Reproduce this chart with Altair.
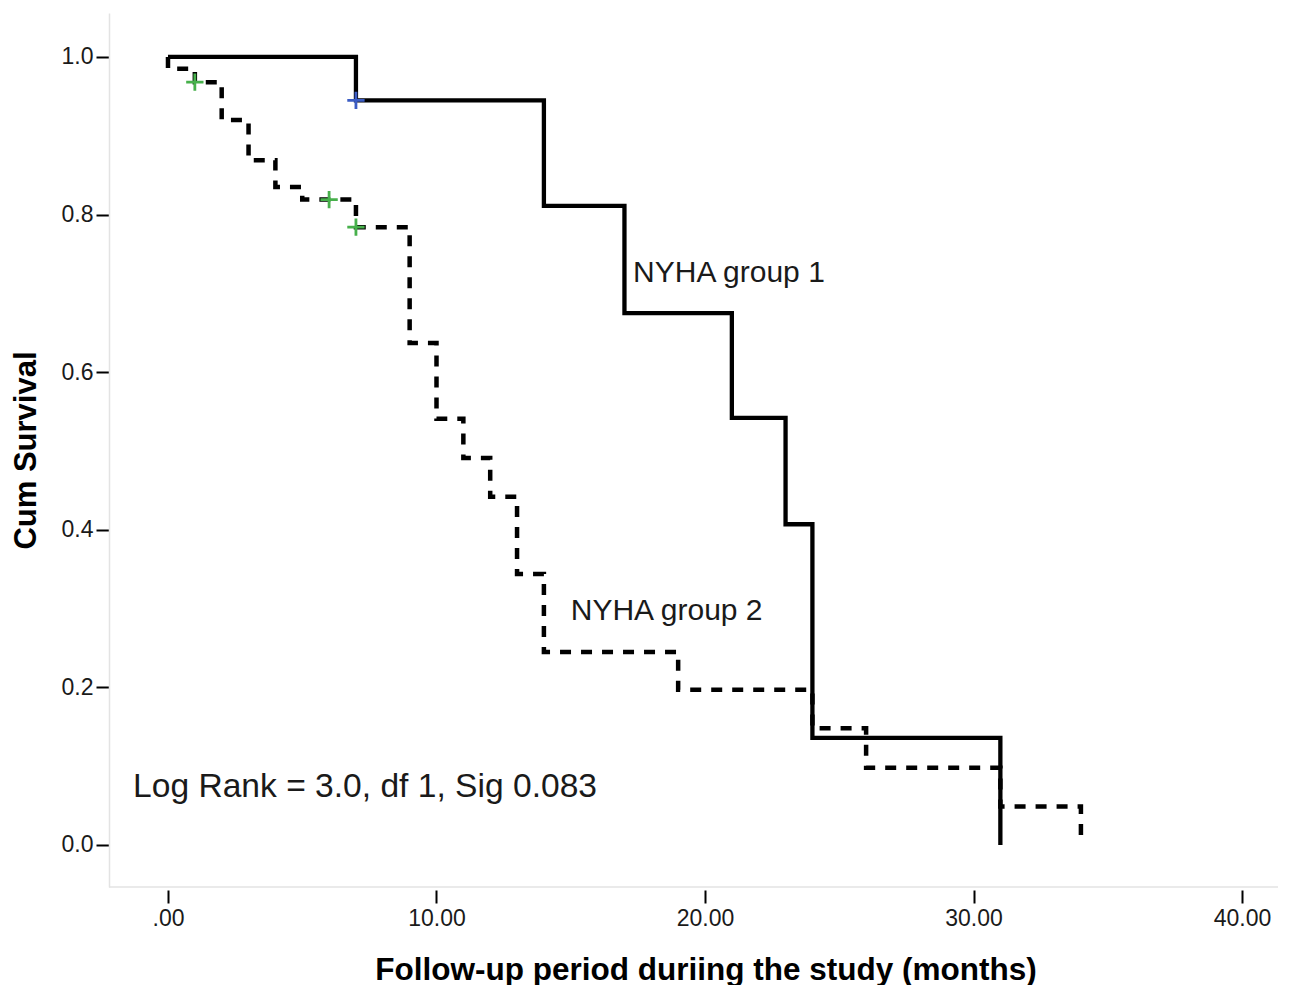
import altair as alt
import pandas as pd

# ---- data ----
group_names = ["NYHA group 1", "NYHA group 2"]

g1_time = [0, 7, 14, 17, 21, 23, 24, 31]
g1_surv = [1.0, 0.945, 0.811, 0.675, 0.542, 0.407, 0.136, 0.0]

g2_time = [0, 0, 1, 2, 3, 4, 5, 7, 9, 10, 11, 12, 13, 14, 19, 24, 26, 31, 34]
g2_surv = [1.0, 0.985, 0.968, 0.920, 0.869, 0.835, 0.819, 0.784, 0.637, 0.541,
           0.491, 0.442, 0.344, 0.245, 0.197, 0.148, 0.098, 0.049, 0.0]

g1_cens_time = [7]
g1_cens_surv = [0.945]
g2_cens_time = [1, 6, 7]
g2_cens_surv = [0.968, 0.819, 0.784]

x_ticks = [0, 10, 20, 30, 40]
y_ticks = [0.0, 0.2, 0.4, 0.6, 0.8, 1.0]

x_title = "Follow-up period duriing the study (months)"
y_title = "Cum Survival"
stat_text = "Log Rank = 3.0, df 1, Sig 0.083"

# ---- tables ----
g1 = pd.DataFrame({"t": g1_time, "s": g1_surv, "group": group_names[0],
                   "idx": range(len(g1_time))})
g2 = pd.DataFrame({"t": g2_time, "s": g2_surv, "group": group_names[1],
                   "idx": range(len(g2_time))})
cens = pd.concat([
    pd.DataFrame({"t": g1_cens_time, "s": g1_cens_surv, "group": group_names[0]}),
    pd.DataFrame({"t": g2_cens_time, "s": g2_cens_surv, "group": group_names[1]}),
])

FONT = "Liberation Sans"
W, H = 1169, 874
xs = alt.Scale(domain=[-2.197, 41.34], nice=False, zero=False)
ys = alt.Scale(domain=[-0.0533, 1.0558], nice=False, zero=False)

x_axis = alt.Axis(values=x_ticks, grid=False, domain=False, offset=3,
                  tickSize=13, tickWidth=2, tickColor="#000",
                  labelFont=FONT, labelFontSize=23, labelColor="#1a1a1a", labelPadding=4,
                  labelExpr="datum.value == 0 ? '.00' : format(datum.value, '.2f')",
                  title=x_title, titleFont=FONT, titleFontSize=31.5, titleFontWeight="bold",
                  titleColor="#000", titleX=596.5, titleY=89, titleBaseline="alphabetic")
y_axis = alt.Axis(values=y_ticks, grid=False, format=".1f",
                  domain=True, domainColor="#e3e3e3", domainWidth=1.5,
                  tickSize=13, tickWidth=2, tickColor="#000",
                  labelFont=FONT, labelFontSize=23, labelColor="#1a1a1a", labelPadding=3,
                  title=y_title, titleFont=FONT, titleFontSize=31, titleFontWeight="bold",
                  titleColor="#000", titleX=-74, titleBaseline="alphabetic")

line1 = alt.Chart(g1).mark_line(interpolate="step-after", strokeWidth=4.3, color="#000").encode(
    x=alt.X("t:Q", scale=xs, axis=x_axis),
    y=alt.Y("s:Q", scale=ys, axis=y_axis),
    order="idx:Q",
)
line2 = alt.Chart(g2).mark_line(interpolate="step-after", strokeWidth=4.5, color="#000",
                                strokeDash=[11, 10]).encode(
    x=alt.X("t:Q", scale=xs),
    y=alt.Y("s:Q", scale=ys),
    order="idx:Q",
)
marks = alt.Chart(cens).mark_point(shape="M-1,0H1M0,-1V1", filled=False, size=300,
                                   strokeWidth=2.8, opacity=1).encode(
    x=alt.X("t:Q", scale=xs),
    y=alt.Y("s:Q", scale=ys),
    color=alt.Color("group:N", scale=alt.Scale(domain=group_names,
                                               range=["#3b5cc4", "#47b04b"]), legend=None),
)

def label(txt, t, s, size):
    return alt.Chart(pd.DataFrame({"a": [0]})).mark_text(
        text=txt, align="left", baseline="alphabetic", font=FONT, fontSize=size,
        color="#1a1a1a").encode(x=alt.datum(t), y=alt.datum(s))

lab1 = label(group_names[0], 17.32, 0.714, 30)
lab2 = label(group_names[1], 15.0, 0.2855, 30)
lab3 = label(stat_text, -1.30, 0.061, 33.6)

frame = alt.Chart(pd.DataFrame({"a": [0]})).mark_rule(color="#e3e3e3", strokeWidth=1.5).encode(
    x=alt.value(0), x2=alt.value(W), y=alt.value(H))

chart = alt.layer(frame, line1, line2, marks, lab1, lab2, lab3).properties(
    width=W, height=H,
    autosize=alt.AutoSizeParams(type="none"),
    padding={"left": 101, "top": 5, "right": 0, "bottom": 100},
    background="#ffffff",
).configure_view(strokeWidth=0)

chart.save("out.html", embed_options={"renderer": "svg", "actions": False})
